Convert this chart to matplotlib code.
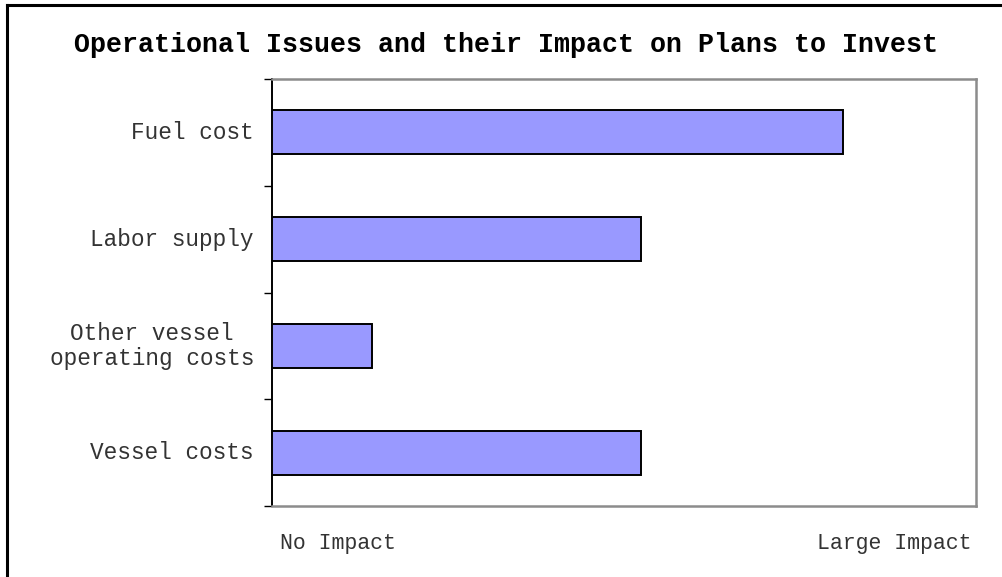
import matplotlib
matplotlib.use("Agg")
import matplotlib.pyplot as plt
from matplotlib.lines import Line2D

categories = ["Fuel cost", "Labor supply", "Other vessel\noperating costs", "Vessel costs"]
impact = [81.1, 52.4, 14.2, 52.4]
x_labels = ["No Impact", "Large Impact"]
title = "Operational Issues and their Impact on Plans to Invest"

W, H = 1003, 577
fig = plt.figure(figsize=(W / 100, H / 100), dpi=100)
fig.patch.set_facecolor("white")
mono = ["Liberation Mono", "DejaVu Sans Mono"]

ax = fig.add_axes([272 / W, 1 - 506 / H, (976 - 272) / W, (506 - 79) / H])
ypos = list(range(len(categories)))
ax.barh(ypos, impact, height=0.41, color="#9999FF", edgecolor="black", linewidth=1.4, zorder=3)
ax.set_xlim(0, 100)
ax.set_ylim(len(categories) - 0.5, -0.5)

# ticks at category boundaries
ax.set_yticks([i - 0.5 for i in range(len(categories) + 1)])
ax.set_yticklabels([])
ax.tick_params(axis="y", length=6, width=1, color="black", direction="out")
ax.set_xticks([])
for i, c in enumerate(categories):
    ax.text(-18 / 704 * 100, i, c, ha="right", va="center", multialignment="center",
            family=mono, fontsize=16.4, color="#333333", linespacing=1.12)

for s in ["top", "right", "bottom"]:
    ax.spines[s].set_color("#8c8c8c")
    ax.spines[s].set_linewidth(1.8)
ax.spines["left"].set_color("black")
ax.spines["left"].set_linewidth(1.4)

ax.text(0.094, -37 / 427, x_labels[0], transform=ax.transAxes, ha="center", va="center",
        family=mono, fontsize=15.5, color="#333333")
ax.text(0.884, -37 / 427, x_labels[1], transform=ax.transAxes, ha="center", va="center",
        family=mono, fontsize=15.5, color="#333333")

fig.text(506 / W, 1 - 45 / H, title, ha="center", va="center", family=mono,
         fontsize=19.2, fontweight="bold", color="black")

# figure border (left and top visible)
fig.add_artist(Line2D([7 / W, 7 / W], [0, 1 - 5 / H], transform=fig.transFigure, color="black", linewidth=2.2))
fig.add_artist(Line2D([7 / W, 1], [1 - 5 / H, 1 - 5 / H], transform=fig.transFigure, color="black", linewidth=2.2))

fig.savefig("out.png", dpi=100)
